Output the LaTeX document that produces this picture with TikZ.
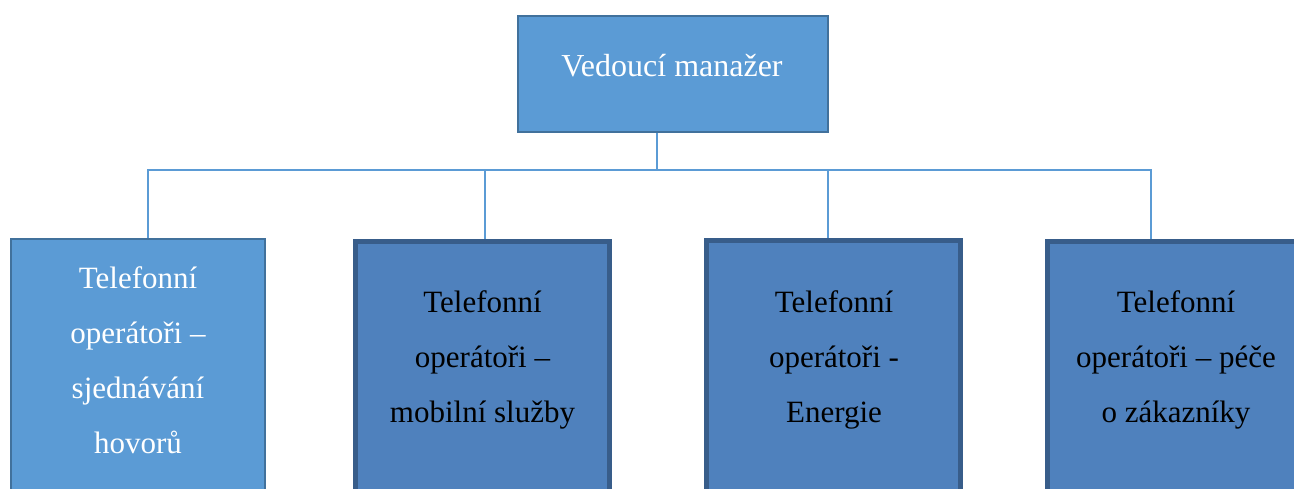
\documentclass[tikz,border=0pt]{standalone}
\usepackage{fontspec}
\setmainfont{Liberation Serif}
\definecolor{lightfill}{HTML}{5B9BD5}
\definecolor{lightedge}{HTML}{41719C}
\definecolor{darkfill}{HTML}{4F81BD}
\definecolor{darkedge}{HTML}{385D8A}
\definecolor{linkblue}{HTML}{5B9BD5}
\begin{document}
\begin{tikzpicture}[x=1pt,y=-1pt,
  lightbox/.style={draw=lightedge, fill=lightfill, line width=2pt, inner sep=0pt,
    minimum width=254pt, minimum height=300pt},
  darkbox/.style={draw=darkedge, fill=darkfill, line width=5pt, inner sep=0pt,
    minimum width=254pt, minimum height=300pt, anchor=north},
  boxtext/.style={align=center, font=\fontsize{31}{55}\selectfont, inner sep=0pt},
  link/.style={draw=linkblue, line width=1.2pt}]
\useasboundingbox (0,0) rectangle (1294,488);
\clip (0,0) rectangle (1294,488);

% boxes
\node[lightbox, minimum width=310pt, minimum height=116pt] (top) at (673,74) {};
\node[lightbox, anchor=north] (b1) at (138,238) {};
\node[darkbox] (b2) at (482.5,238.5) {};
\node[darkbox] (b3) at (833.5,237.5) {};
\node[darkbox, minimum width=257pt] (b4) at (1176,238.5) {};

% labels
\node[boxtext, text=white, font=\fontsize{32}{55}\selectfont] (ttop) at (672,66) {Vedoucí manažer};
\node[boxtext, text=white] (t1) at (138,360) {Telefonní\\operátoři –\\sjednávání\\hovorů};
\node[boxtext] (t2) at (482.5,360) {Telefonní\\operátoři –\\mobilní služby};
\node[boxtext] (t3) at (834,360) {Telefonní\\operátoři -\\Energie};
\node[boxtext] (t4) at (1176,360) {Telefonní\\operátoři – péče\\o zákazníky};

% connectors
\coordinate (j) at (657,170);
\draw[link] (j |- top.south) -- (j);
\draw[link] ([xshift=10pt]b1.north) |- ([xshift=-25pt]b4.north |- j) -- ([xshift=-25pt]b4.north);
\draw[link] ([xshift=2.5pt]b2.north) -- ([xshift=2.5pt]b2.north |- j);
\draw[link] ([xshift=-5.5pt]b3.north) -- ([xshift=-5.5pt]b3.north |- j);
\end{tikzpicture}
\end{document}
